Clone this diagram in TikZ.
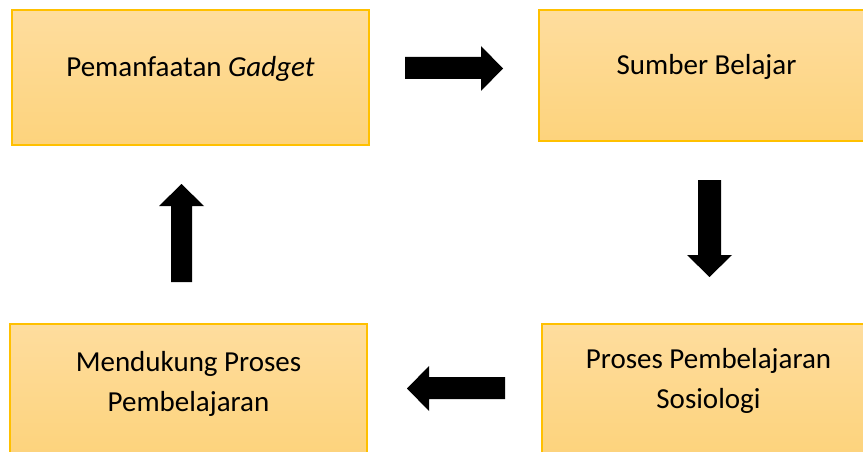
\documentclass[tikz,border=0pt]{standalone}
\usepackage{fontspec}
\setmainfont{Carlito}
\definecolor{boxline}{HTML}{FFC000}
\definecolor{boxtop}{HTML}{FEDD9E}
\definecolor{boxbot}{HTML}{FDD37C}
\begin{document}
\begin{tikzpicture}[x=1pt,y=-1pt,
  box/.style={draw=boxline, line width=1.3pt, top color=boxtop, bottom color=boxbot,
    rectangle, inner sep=0pt, outer sep=0pt},
  lbl/.style={font=\fontsize{29}{39.5}\selectfont, align=center, anchor=base, inner sep=0pt},
  blk/.style={fill=black, draw=none}]
\useasboundingbox (0,0) rectangle (863,452);
\clip (0,0) rectangle (863,452);
% boxes
\node[box, minimum width=357pt, minimum height=135pt] (tl) at (190.5,77.5) {};
\node[box, minimum width=335pt, minimum height=131pt] (tr) at (706.5,75.5) {};
\node[box, minimum width=357pt, minimum height=131pt] (bl) at (188.5,389.5) {};
\node[box, minimum width=333pt, minimum height=131pt] (br) at (708.5,389.5) {};
% labels
\node[lbl] (tltext) at (190.5,76.5) {Pemanfaatan \textit{Gadget}};
\node[lbl] (trtext) at (706.5,74.5) {Sumber Belajar};
\node[lbl] (bltext) at (188.5,411) {Mendukung Proses\\Pembelajaran};
\node[lbl] (brtext) at (708.5,408) {Proses Pembelajaran\\Sosiologi};
% block arrows
\fill[blk] (405,57) -- (481,57) -- (481,46) -- (503,68.5) -- (481,91) -- (481,79) -- (405,79) -- cycle;
\fill[blk] (698,180) -- (721,180) -- (721,255) -- (732,255) -- (709.5,277) -- (687,255) -- (698,255) -- cycle;
\fill[blk] (505,377) -- (429,377) -- (429,366) -- (407,388.5) -- (429,411) -- (429,399) -- (505,399) -- cycle;
\fill[blk] (171,282) -- (171,206) -- (159,206) -- (181.5,184) -- (204,206) -- (192,206) -- (192,282) -- cycle;
\end{tikzpicture}
\end{document}
